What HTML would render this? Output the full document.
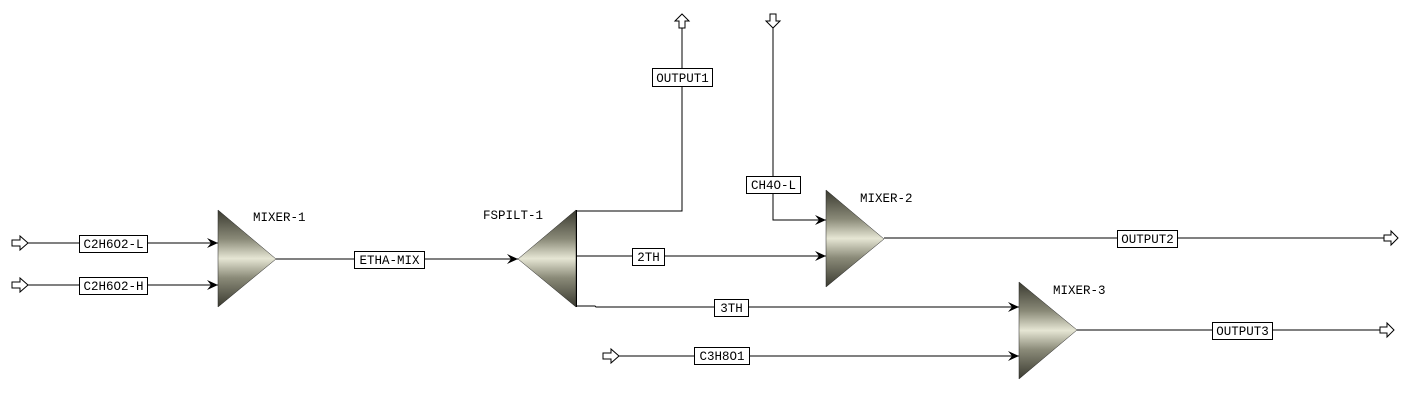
<!DOCTYPE html>
<html><head><meta charset="utf-8"><style>
html,body{margin:0;padding:0;background:#fff;}
svg{display:block;}
text{font-family:"Liberation Mono",monospace;font-size:12.5px;fill:#000;}
</style></head><body>
<svg width="1419" height="401" viewBox="0 0 1419 401" xmlns="http://www.w3.org/2000/svg">
<defs>
<linearGradient id="g" x1="0" y1="0" x2="0" y2="1">
<stop offset="0" stop-color="#3a3a30"/>
<stop offset="0.3" stop-color="#8a8a78"/>
<stop offset="0.5" stop-color="#e6e6d4"/>
<stop offset="0.7" stop-color="#8a8a78"/>
<stop offset="1" stop-color="#3a3a30"/>
</linearGradient>
<marker id="ah" markerWidth="12" markerHeight="10" refX="11" refY="5" orient="auto" markerUnits="userSpaceOnUse">
<path d="M0,0 L11,5 L0,10 L4,5 Z" fill="#000"/>
</marker>
</defs>
<g stroke="#000" stroke-width="1" fill="none">
<line x1="28" y1="243" x2="218" y2="243" marker-end="url(#ah)"/>
<line x1="28" y1="285" x2="218" y2="285" marker-end="url(#ah)"/>
<line x1="276" y1="259" x2="518" y2="259" marker-end="url(#ah)"/>
<polyline points="576,211 682,211 682,28"/>
<polyline points="773,28 773,220 826,220" marker-end="url(#ah)"/>
<line x1="576" y1="256" x2="826" y2="256" marker-end="url(#ah)"/>
<polyline points="576,306 595,306 596,307 1019,307" marker-end="url(#ah)"/>
<line x1="619" y1="356" x2="1019" y2="356" marker-end="url(#ah)"/>
<line x1="884" y1="238" x2="1384" y2="238"/>
<line x1="1077" y1="330" x2="1380" y2="330"/>
</g>
<g fill="#fff" stroke="#000" stroke-width="1">
<path d="M12,240 L20,240 L20,236 L28,243 L20,250 L20,246 L12,246 Z"/>
<path d="M12,282 L20,282 L20,278 L28,285 L20,292 L20,288 L12,288 Z"/>
<path d="M603,353 L611,353 L611,349 L619,356 L611,363 L611,359 L603,359 Z"/>
<path d="M1384,235 L1391,235 L1391,231 L1398,238 L1391,245 L1391,241 L1384,241 Z"/>
<path d="M1380,327 L1387,327 L1387,323 L1394,330 L1387,337 L1387,333 L1380,333 Z"/>
<path d="M679,28 L679,21 L675,21 L682,14 L689,21 L685,21 L685,28 Z"/>
<path d="M770,14 L770,21 L766,21 L773,28 L780,21 L776,21 L776,14 Z"/>
</g>
<g fill="url(#g)" stroke="#222" stroke-width="0.5">
<polygon points="218,210 218,307 276,259"/>
<polygon points="576,210 576,307 518,259"/>
<polygon points="826,190 826,287 884,239"/>
<polygon points="1019,282 1019,379 1077,330"/>
</g>
<line x1="576.5" y1="210" x2="576.5" y2="307" stroke="#000"/>
<g fill="#fff" stroke="#000" stroke-width="1">
<rect x="79.5" y="235.5" width="68" height="17"/>
<rect x="79.5" y="277.5" width="68" height="17"/>
<rect x="354.5" y="251.5" width="70" height="17"/>
<rect x="652.5" y="68.5" width="60" height="18"/>
<rect x="746.5" y="176.5" width="54" height="17"/>
<rect x="632.5" y="248.5" width="32" height="17"/>
<rect x="714.5" y="299.5" width="34" height="17"/>
<rect x="694.5" y="347.5" width="55" height="17"/>
<rect x="1117.5" y="230.5" width="60" height="17"/>
<rect x="1212.5" y="322.5" width="60" height="17"/>
</g>
<g text-anchor="middle">
<text x="113.5" y="248">C2H6O2-L</text>
<text x="113.5" y="290">C2H6O2-H</text>
<text x="389.5" y="264">ETHA-MIX</text>
<text x="682.5" y="82">OUTPUT1</text>
<text x="773.5" y="189">CH4O-L</text>
<text x="648.5" y="261">2TH</text>
<text x="731.5" y="312">3TH</text>
<text x="722" y="360">C3H8O1</text>
<text x="1147.5" y="243">OUTPUT2</text>
<text x="1242.5" y="335">OUTPUT3</text>
</g>
<text x="253" y="221">MIXER-1</text>
<text x="483" y="219">FSPILT-1</text>
<text x="860" y="202">MIXER-2</text>
<text x="1053" y="294">MIXER-3</text>
</svg>
</body></html>
